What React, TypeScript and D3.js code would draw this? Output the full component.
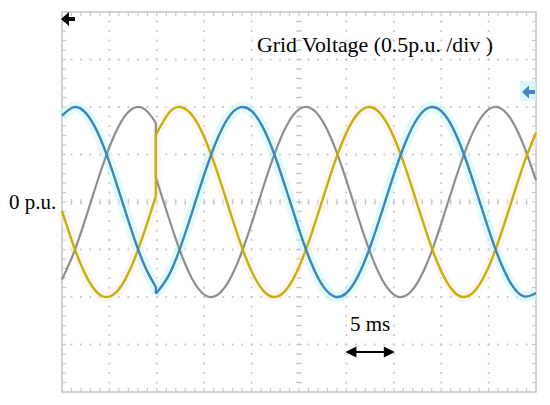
import React from "react";
import * as d3 from "d3";

// time in ms (5 ms/div, 10 div), duplicated time = phase jump event
const timeMs = [
  0, 1.25, 2.5, 3.75, 5, 6.25, 7.5, 8.75, 9.9,
  9.9, 11.25, 12.5, 13.75, 15, 16.25, 17.5, 18.75, 20, 21.25, 22.5, 23.75, 25,
  26.25, 27.5, 28.75, 30, 31.25, 32.5, 33.75, 35, 36.25, 37.5, 38.75, 40, 41.25,
  42.5, 43.75, 45, 46.25, 47.5, 48.75, 50,
];
// grid voltage in p.u. (0.5 p.u./div)
const phaseYellow = [
  -0.094, -0.468, -0.77, -0.956, -0.996, -0.884, -0.637, -0.294, 0.063,
  0.707, 0.935, 1.0, 0.911, 0.685, 0.353, -0.031, -0.412, -0.729, -0.935, -1.0,
  -0.911, -0.685, -0.353, 0.031, 0.412, 0.729, 0.935, 1.0, 0.911, 0.685, 0.353,
  -0.031, -0.412, -0.729, -0.935, -1.0, -0.911, -0.685, -0.353, 0.031, 0.412, 0.729,
];
const phaseBlue = [
  0.909, 0.999, 0.938, 0.733, 0.417, 0.038, -0.348, -0.68, -0.895,
  -0.966, -0.775, -0.474, -0.1, 0.288, 0.632, 0.881, 0.995, 0.958, 0.775, 0.474,
  0.1, -0.288, -0.632, -0.881, -0.995, -0.958, -0.775, -0.474, -0.1, 0.288, 0.632,
  0.881, 0.995, 0.958, 0.775, 0.474, 0.1, -0.288, -0.632, -0.881, -0.995, -0.958,
];
const phaseGray = [
  -0.816, -0.533, -0.169, 0.221, 0.577, 0.846, 0.986, 0.975, 0.834,
  0.258, -0.163, -0.528, -0.813, -0.974, -0.987, -0.849, -0.583, -0.227, 0.163,
  0.528, 0.813, 0.974, 0.987, 0.849, 0.583, 0.227, -0.163, -0.528, -0.813, -0.974,
  -0.987, -0.849, -0.583, -0.227, 0.163, 0.528, 0.813, 0.974, 0.987, 0.849, 0.583, 0.227,
];

const titleText = "Grid Voltage (0.5p.u. /div )";
const zeroLabel = "0 p.u.";
const scaleLabel = "5 ms";

const X0 = 62, X1 = 536, Y0 = 12, Y1 = 392;
const NX = 10, NY = 8, MINOR = 5;

export default function App() {
  const x = d3.scaleLinear().domain([0, 50]).range([X0, X1]);
  const y = d3.scaleLinear().domain([-2, 2]).range([Y1, Y0]);

  const makePaths = (vals: number[]) => {
    const segs: [number, number][][] = [];
    let cur: [number, number][] = [];
    timeMs.forEach((t, i) => {
      if (i > 0 && t === timeMs[i - 1]) {
        segs.push(cur);
        cur = [];
      }
      cur.push([t, vals[i]]);
    });
    segs.push(cur);
    const line = d3
      .line<[number, number]>()
      .x((d) => x(d[0]))
      .y((d) => y(d[1]))
      .curve(d3.curveNatural);
    const parts: string[] = [];
    segs.forEach((s, i) => {
      parts.push(line(s) as string);
      if (i < segs.length - 1) {
        const a = s[s.length - 1];
        const b = segs[i + 1][0];
        parts.push(`M${x(a[0])},${y(a[1])}L${x(b[0])},${y(b[1])}`);
      }
    });
    return parts.join("");
  };

  const dx = (X1 - X0) / NX;
  const dy = (Y1 - Y0) / NY;
  const dots: JSX.Element[] = [];
  for (let i = 1; i < NY; i++) {
    const yy = Y0 + i * dy;
    for (let j = 1; j < NX * MINOR; j++) {
      const xx = X0 + (j * dx) / MINOR;
      dots.push(<rect key={`h${i}-${j}`} x={xx - 0.9} y={yy - 0.9} width={1.8} height={1.8} fill="#c4c4c4" />);
    }
  }
  for (let j = 1; j < NX; j++) {
    const xx = X0 + j * dx;
    for (let i = 1; i < NY * MINOR; i++) {
      const yy = Y0 + (i * dy) / MINOR;
      dots.push(<rect key={`v${j}-${i}`} x={xx - 0.9} y={yy - 0.9} width={1.8} height={1.8} fill="#c4c4c4" />);
    }
  }
  const ticks: JSX.Element[] = [];
  const cx = X0 + 5 * dx, cy = Y0 + 4 * dy;
  for (let i = 1; i < NY * MINOR; i++) {
    const yy = Y0 + (i * dy) / MINOR;
    ticks.push(<line key={`tl${i}`} x1={X0} x2={X0 + 4} y1={yy} y2={yy} />);
    ticks.push(<line key={`tr${i}`} x1={X1 - 4} x2={X1} y1={yy} y2={yy} />);
    ticks.push(<line key={`tc${i}`} x1={cx - 3} x2={cx + 3} y1={yy} y2={yy} />);
  }
  for (let j = 1; j < NX * MINOR; j++) {
    const xx = X0 + (j * dx) / MINOR;
    ticks.push(<line key={`tt${j}`} x1={xx} x2={xx} y1={Y0} y2={Y0 + 4} />);
    ticks.push(<line key={`tb${j}`} x1={xx} x2={xx} y1={Y1 - 4} y2={Y1} />);
    ticks.push(<line key={`tm${j}`} x1={xx} x2={xx} y1={cy - 3} y2={cy + 3} />);
  }

  const pY = makePaths(phaseYellow);
  const pB = makePaths(phaseBlue);
  const pG = makePaths(phaseGray);
  const ay = 352, ax0 = x(30) - 1, ax1 = x(35) + 1;

  return (
    <svg width={550} height={405} style={{ position: "fixed", left: 0, top: 0, background: "#fff" }}
      fontFamily="'Liberation Serif', 'Times New Roman', serif">
      <rect x={0} y={0} width={550} height={405} fill="#fff" />
      {dots}
      <g stroke="#c8c8c8" strokeWidth={1.2}>{ticks}</g>
      <rect x={X0} y={Y0} width={X1 - X0} height={Y1 - Y0} fill="none" stroke="#c8c8c8" strokeWidth={1.6} />
      <path d={pB} fill="none" stroke="#ccf6f6" strokeWidth={11} strokeOpacity={0.55} strokeLinejoin="round" />
      <path d={pY} fill="none" stroke="#fde8f2" strokeWidth={10} strokeOpacity={0.45} strokeLinejoin="round" />
      <path d={pG} fill="none" stroke="#8e8e8e" strokeWidth={2.2} />
      <path d={pY} fill="none" stroke="#c6b200" strokeWidth={2.4} />
      <path d={pB} fill="none" stroke="#3a87bd" strokeWidth={2.4} />
      {/* top-left marker */}
      <path d={`M${X0 - 1},19 L${X0 + 7},12 L${X0 + 7},17 L${X0 + 13},17 L${X0 + 13},21 L${X0 + 7},21 L${X0 + 7},26 Z`} fill="#000" />
      {/* right marker */}
      <rect x={520} y={81} width={16} height={20} fill="#c9f7f7" opacity={0.7} />
      <path d={`M522,92 L529,85.5 L529,90 L535,90 L535,94 L529,94 L529,98.5 Z`} fill="#4a82c2" />
      <text x={257} y={52} fontSize={21.8} fill="#000">{titleText}</text>
      <text x={9} y={209} fontSize={21} fill="#000">{zeroLabel}</text>
      <text x={350} y={331} fontSize={21} fill="#000">{scaleLabel}</text>
      <line x1={ax0 + 8} x2={ax1 - 8} y1={ay} y2={ay} stroke="#000" strokeWidth={2} />
      <path d={`M${ax0},${ay} L${ax0 + 11},${ay - 5.5} L${ax0 + 11},${ay + 5.5} Z`} fill="#000" />
      <path d={`M${ax1},${ay} L${ax1 - 11},${ay - 5.5} L${ax1 - 11},${ay + 5.5} Z`} fill="#000" />
    </svg>
  );
}
